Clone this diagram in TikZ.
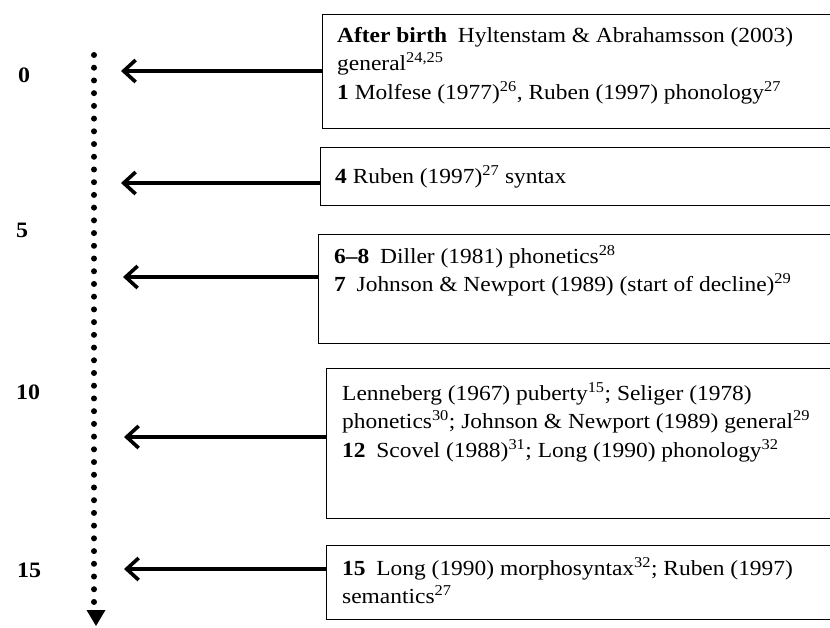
\documentclass[tikz,border=0pt]{standalone}
\usepackage{fontspec}
\setmainfont{Liberation Serif}[FakeStretch=1.09]
\usetikzlibrary{positioning,arrows.meta,calc}

\begin{document}
\begin{tikzpicture}[
  x=1pt, y=-1pt,
  font=\fontsize{21.5}{28.5}\selectfont,
  %% Node styles
  entrybox/.style={
    rectangle, draw=black, line width=1.3pt,
    anchor=north west, inner sep=0pt, minimum width=540pt
  },
  entrytext/.style={
    anchor=base west, align=left, inner sep=0pt
  },
  agelabel/.style={
    anchor=west, inner sep=0pt,
    font=\fontsize{22}{24}\selectfont\bfseries
  },
  %% Arrow styles
  pointer/.style={-{Straight Barb[length=12pt,width=22pt]}, line width=3.6pt},
  timeline/.style={line width=6pt, line cap=round,
                   dash pattern=on 0pt off 12.72pt},
]

\useasboundingbox (0,0) rectangle (830,627);
\clip (0,0) rectangle (830,627);

%% ── Time axis ──────────────────────────────────────────────────────────────
\coordinate (tstart) at (94,55);
\coordinate (tlast)  at (94,602);
\coordinate (ttip)   at (96,626);
\draw[timeline] (tstart) -- (tlast);
\fill (ttip) -- ++(-9.5,-16) -- ++(19,0) -- cycle;

%% age labels
\node[agelabel] (age0)  at (18,75)  {0};
\node[agelabel] (age5)  at (16,230) {5};
\node[agelabel] (age10) at (16,392) {10};
\node[agelabel] (age15) at (17,570) {15};

%% ── Boxes ──────────────────────────────────────────────────────────────────
\node[entrybox, minimum height=114pt] (b1) at (322,14)  {};
\node[entrybox, minimum height=58pt]  (b2) at (320,147) {};
\node[entrybox, minimum height=109pt] (b3) at (318,234) {};
\node[entrybox, minimum height=150pt] (b4) at (326,368) {};
\node[entrybox, minimum height=74pt]  (b5) at (326,545) {};

%% ── Box texts (anchored on the baseline of their last line) ───────────────
\node[entrytext] (t1) at ($(b1.north west)+(15,85)$) {%
  \textbf{After birth}\enspace Hyltenstam \& Abrahamsson (2003)\\
  general\textsuperscript{24,25}\\
  \textbf{1} Molfese (1977)\textsuperscript{26}, Ruben (1997) phonology\textsuperscript{27}};
\node[entrytext] (t2) at ($(b2.north west)+(15,36)$) {%
  \textbf{4} Ruben (1997)\textsuperscript{27} syntax};
\node[entrytext] (t3) at ($(b3.north west)+(16,57.5)$) {%
  \textbf{6--8}\enspace Diller (1981) phonetics\textsuperscript{28}\\
  \textbf{7}\enspace Johnson \& Newport (1989) (start of decline)\textsuperscript{29}};
\node[entrytext] (t4) at ($(b4.north west)+(16,89)$) {%
  Lenneberg (1967) puberty\textsuperscript{15}; Seliger (1978)\\
  phonetics\textsuperscript{30}; Johnson \& Newport (1989) general\textsuperscript{29}\\
  \textbf{12}\enspace Scovel (1988)\textsuperscript{31}; Long (1990) phonology\textsuperscript{32}};
\node[entrytext] (t5) at ($(b5.north west)+(16,58.5)$) {%
  \textbf{15}\enspace Long (1990) morphosyntax\textsuperscript{32}; Ruben (1997)\\
  semantics\textsuperscript{27}};

%% ── Pointers to the axis ───────────────────────────────────────────────────
\coordinate (a1) at (121,71);
\coordinate (a2) at (121,183);
\coordinate (a3) at (123,277);
\coordinate (a4) at (124,437);
\coordinate (a5) at (124,569);
\draw[pointer] (b1.west |- a1) -- (a1);
\draw[pointer] (b2.west |- a2) -- (a2);
\draw[pointer] (b3.west |- a3) -- (a3);
\draw[pointer] (b4.west |- a4) -- (a4);
\draw[pointer] (b5.west |- a5) -- (a5);

\end{tikzpicture}
\end{document}
